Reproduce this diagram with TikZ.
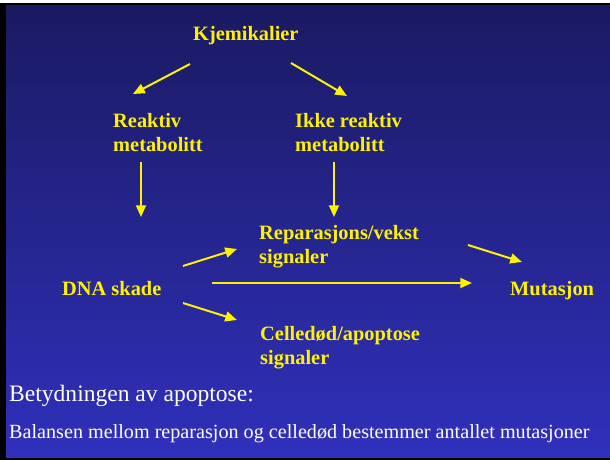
\documentclass[tikz,border=0pt]{standalone}
\usepackage{fontspec}
\setmainfont{Liberation Serif}
\usetikzlibrary{arrows.meta,calc}
\definecolor{slidetop}{RGB}{26,26,98}
\definecolor{slidebot}{RGB}{48,48,188}
\begin{document}
\begin{tikzpicture}[x=0.03cm, y=-0.03cm,
    >={Triangle[length=10pt, width=8.5pt]},
    base/.style={inner sep=0pt, anchor=base west, align=left},
    lbl/.style={base, text=yellow, font=\bfseries\fontsize{17.4}{20.5}\selectfont},
    head/.style={base, text=white, font=\fontsize{20.1}{24}\selectfont},
    line/.style={base, text=white, font=\fontsize{17.2}{20}\selectfont},
    norm/.style={->, draw, yellow, line width=1.7pt}]

\useasboundingbox (0,0) rectangle (610,460);
\fill[white] (0,0) rectangle (610,460);
\fill[black] (0,3) rectangle (610,460);
\shade[top color=slidetop, bottom color=slidebot] (6,6) rectangle (610,458);

% two-line labels sit on their last baseline
\node [lbl] (kjem) at (193,41) {Kjemikalier};
\node [lbl] (reak) at (113,152) {Reaktiv\\metabolitt};
\node [lbl] (ikke) at (295,152) {Ikke reaktiv\\metabolitt};
\node [lbl] (rep) at (259,264) {Reparasjons/vekst\\signaler};
\node [lbl] (dna) at (62,296) {DNA skade};
\node [lbl] (mut) at (510,296) {Mutasjon};
\node [lbl] (cell) at (260,365) {Celledød/apoptose\\signaler};
\node [head] (bet) at (9,402) {Betydningen av apoptose:};
\node [line] (bal) at (9,439) {Balansen mellom reparasjon og celledød bestemmer antallet mutasjoner};

\draw [norm] ($(kjem.base west)+(-3,23)$) -- ($(reak.base west)+(20,-58)$);
\draw [norm] ($(kjem.base west)+(98,22)$) -- ($(ikke.base west)+(52,-56)$);
\draw [norm] ($(reak.base west)+(28,10)$) -- ($(dna.base west)+(79,-79)$);
\draw [norm] ($(ikke.base west)+(39,10)$) -- ($(rep.base west)+(75,-47)$);
\draw [norm] ($(dna.base west)+(121,-30)$) -- ($(rep.base west)+(-22,-15)$);
\draw [norm] ($(dna.base west)+(150,-13)$) -- ($(mut.base west)+(-38,-13)$);
\draw [norm] ($(dna.base west)+(121,7)$) -- ($(cell.base west)+(-23,-45)$);
\draw [norm] ($(rep.base west)+(209,-19)$) -- ($(mut.base west)+(12,-34)$);

\end{tikzpicture}
\end{document}
